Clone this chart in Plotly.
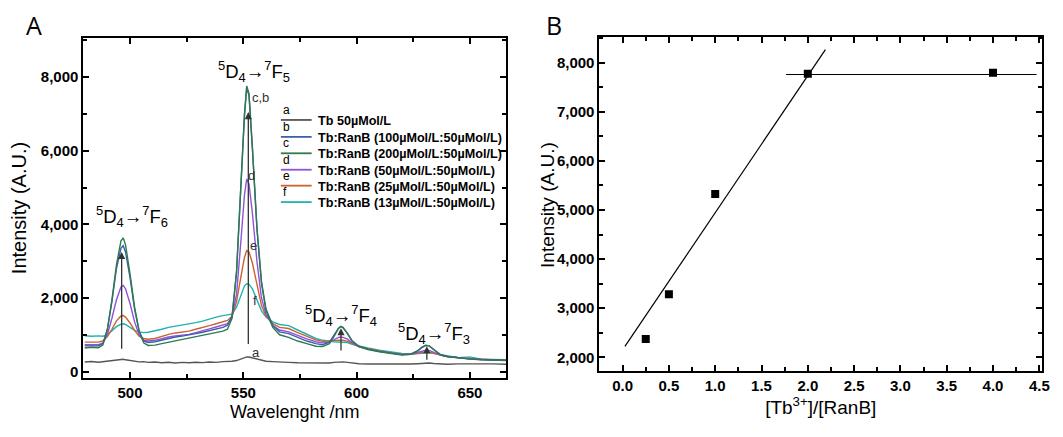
import plotly.graph_objects as go

# ---------------- Panel A data ----------------
wavelength = [480, 483, 486, 488, 490, 492, 494, 496, 497, 498, 500, 502, 504, 506, 508,
              511, 514, 517, 520, 523, 526, 529, 532, 535, 538, 541, 543, 545, 547, 549,
              550.5, 551.5, 552.5, 554, 556, 558, 560, 563, 566, 570, 574, 578, 582, 585,
              588, 590, 592, 593, 594, 596, 598, 601, 605, 610, 615, 620, 624, 627, 629,
              630.5, 632, 634, 637, 640, 645, 650, 655, 660, 666]

int_a = [260, 275, 255, 270, 265, 280, 300, 330, 335, 320, 300, 280, 265, 270, 250,
         260, 240, 255, 235, 250, 240, 255, 245, 260, 250, 270, 265, 280, 300, 350,
         390, 400, 395, 370, 330, 300, 280, 270, 255, 250, 240, 235, 230, 225,
         235, 250, 265, 270, 265, 250, 230, 215, 205, 200, 195, 200, 205, 215, 230,
         240, 235, 220, 205, 200, 210, 215, 205, 210, 200]

int_b = [700, 690, 700, 760, 1150, 1900, 2800, 3350, 3420, 3250, 2550, 1700, 1100, 830, 790,
         810, 860, 900, 940, 965, 990, 1030, 1070, 1120, 1160, 1200, 1260, 1500, 2700, 5000,
         6950, 7700, 7500, 6050, 3900, 2450, 1700, 1250, 1080, 1030, 920, 830, 760, 730,
         800, 980, 1180, 1220, 1190, 1030, 840, 690, 610, 550, 500, 460, 480, 570, 670,
         715, 700, 600, 460, 410, 370, 345, 330, 320, 310]

int_c = [640, 660, 650, 720, 1150, 1950, 2900, 3550, 3630, 3450, 2650, 1750, 1100, 780, 710,
         720, 760, 800, 840, 870, 900, 940, 980, 1020, 1060, 1100, 1150, 1450, 2700, 5000,
         7000, 7760, 7550, 6100, 3900, 2400, 1650, 1200, 1000, 930, 830, 760, 690, 680,
         760, 950, 1170, 1230, 1200, 1030, 830, 680, 600, 540, 490, 450, 470, 560, 660,
         710, 700, 590, 450, 410, 370, 340, 320, 310, 300]

int_d = [730, 740, 730, 770, 1000, 1450, 1950, 2300, 2340, 2250, 1850, 1350, 1000, 850, 830,
         850, 900, 940, 970, 990, 1010, 1060, 1100, 1160, 1210, 1260, 1300, 1480, 2100, 3600,
         4800, 5230, 5100, 4300, 3000, 2000, 1550, 1250, 1130, 1080, 980, 890, 810, 780,
         800, 870, 930, 940, 930, 880, 780, 680, 610, 550, 500, 460, 470, 520, 560,
         580, 575, 530, 450, 410, 370, 345, 330, 320, 310]

int_e = [800, 810, 800, 830, 950, 1150, 1380, 1510, 1525, 1480, 1320, 1120, 960, 900, 880,
         900, 960, 1010, 1050, 1075, 1100, 1150, 1190, 1250, 1300, 1360, 1390, 1500, 1900, 2600,
         3100, 3290, 3250, 2950, 2350, 1800, 1500, 1300, 1200, 1170, 1060, 960, 860, 820,
         820, 840, 850, 855, 850, 820, 760, 680, 620, 560, 510, 470, 470, 500, 520,
         530, 525, 500, 450, 410, 375, 350, 335, 325, 315]

int_f = [975, 960, 970, 960, 1000, 1100, 1220, 1290, 1300, 1280, 1200, 1120, 1080, 1060, 1070,
         1100, 1150, 1200, 1230, 1255, 1280, 1330, 1370, 1430, 1480, 1520, 1530, 1560, 1750, 2100,
         2330, 2385, 2370, 2250, 1950, 1650, 1480, 1350, 1280, 1250, 1130, 1010, 900, 850,
         820, 810, 805, 800, 800, 790, 740, 690, 640, 580, 530, 490, 480, 495, 510,
         515, 512, 495, 460, 420, 380, 400, 340, 330, 320]

series_letters = ["a", "b", "c", "d", "e", "f"]
series_names = ["Tb 50µMol/L",
                "Tb:RanB (100µMol/L:50µMol/L)",
                "Tb:RanB (200µMol/L:50µMol/L)",
                "Tb:RanB (50µMol/L:50µMol/L)",
                "Tb:RanB (25µMol/L:50µMol/L)",
                "Tb:RanB (13µMol/L:50µMol/L)"]
series_colors = ["#555555", "#3d5daf", "#2f7a4c", "#8f52d8", "#c9632f", "#1fb3b0"]
series_values = [int_a, int_b, int_c, int_d, int_e, int_f]

# ---------------- Panel B data ----------------
ratio = [0.25, 0.5, 1.0, 2.0, 4.0]
intensity_b = [2375, 3285, 5325, 7775, 7795]
fit_x = [0.025, 2.19]
fit_y = [2223, 8268]
plateau_x = [1.765, 4.47]
plateau_y = [7760, 7760]

W, H = 1063, 437
def px(x):
    return x / W
def py(y):
    return 1 - y / H

fig = go.Figure()

# draw order: a, f, e, d, b, c
order = [0, 5, 4, 3, 1, 2]
for i in order:
    fig.add_trace(go.Scatter(x=wavelength, y=series_values[i], mode="lines",
                             line=dict(color=series_colors[i], width=1.4),
                             name=series_names[i], showlegend=False,
                             xaxis="x", yaxis="y"))

fig.add_trace(go.Scatter(x=fit_x, y=fit_y, mode="lines", line=dict(color="black", width=1.2),
                         showlegend=False, xaxis="x2", yaxis="y2"))
fig.add_trace(go.Scatter(x=plateau_x, y=plateau_y, mode="lines", line=dict(color="black", width=1.2),
                         showlegend=False, xaxis="x2", yaxis="y2"))
fig.add_trace(go.Scatter(x=ratio, y=intensity_b, mode="markers",
                         marker=dict(symbol="square", size=8, color="black"),
                         showlegend=False, xaxis="x2", yaxis="y2"))

tickfont = dict(family="Liberation Sans, Arial", size=15, color="black", weight="bold")
titlefont = dict(family="Liberation Sans, Arial", size=19, color="black")

axis_common = dict(showline=True, linecolor="black", linewidth=2, mirror="allticks",
                   ticks="inside", ticklen=6, tickwidth=1.5, tickcolor="black",
                   showgrid=False, zeroline=False, tickfont=tickfont)

fig.update_layout(
    width=W, height=H, margin=dict(l=0, r=0, t=0, b=0),
    paper_bgcolor="white", plot_bgcolor="white",
    xaxis=dict(domain=[px(84), px(510)], range=[479.4, 666], anchor="y",
               tickvals=[500, 550, 600, 650],
               minor=dict(tickvals=[525, 575, 625], ticks="inside", ticklen=4, tickcolor="black", tickwidth=1.5),
               title=dict(text="Wavelenght /nm", font=dict(family="Liberation Sans, Arial", size=18, color="black"), standoff=5),
               **axis_common),
    yaxis=dict(domain=[py(380), py(38)], range=[-181, 9066], anchor="x",
               tickvals=[0, 2000, 4000, 6000, 8000], tickformat=",d",
               minor=dict(tickvals=[1000, 3000, 5000, 7000, 9000], ticks="inside", ticklen=4, tickcolor="black", tickwidth=1.5),
               title=dict(text="Intensity (A.U.)", font=dict(family="Liberation Sans, Arial", size=20, color="black"), standoff=9),
               **axis_common),
    xaxis2=dict(domain=[px(604), px(1050)], range=[-0.25, 4.53], anchor="y2",
                tickvals=[0, 0.5, 1, 1.5, 2, 2.5, 3, 3.5, 4, 4.5], tickformat=".1f",
                minor=dict(dtick=0.25, tick0=0, ticks="inside", ticklen=4, tickcolor="black", tickwidth=1.5),
                title=dict(text="[Tb<sup>3+</sup>]/[RanB]", font=titlefont, standoff=5),
                **axis_common),
    yaxis2=dict(domain=[py(373), py(37)], range=[1716, 8527], anchor="x2",
                tickvals=[2000, 3000, 4000, 5000, 6000, 7000, 8000], tickformat=",d",
                minor=dict(dtick=500, tick0=0, ticks="inside", ticklen=4, tickcolor="black", tickwidth=1.5),
                **axis_common),
)

ann = []
# panel letters
ann.append(dict(text="A", x=px(34), y=py(25), xref="paper", yref="paper", showarrow=False,
                xanchor="center", yanchor="middle",
                font=dict(family="Open Sans, Liberation Sans", size=25, color="black")))
ann.append(dict(text="B", x=px(558), y=py(25), xref="paper", yref="paper", showarrow=False,
                xanchor="center", yanchor="middle",
                font=dict(family="Open Sans, Liberation Sans", size=25, color="black")))

# panel B y title
ann.append(dict(text="Intensity (A.U.)", x=px(551), y=py(206), xref="paper", yref="paper",
                showarrow=False, textangle=-90, xanchor="center", yanchor="middle",
                font=dict(family="Liberation Sans, Arial", size=19, color="black")))

# transition labels
tfont = dict(family="Liberation Sans, Arial", size=18.5, color="black")
for txt, xv, yv in [("<sup>5</sup>D<sub>4</sub>\u2192<sup>7</sup>F<sub>6</sub>", 501, 4200),
                    ("<sup>5</sup>D<sub>4</sub>\u2192<sup>7</sup>F<sub>5</sub>", 554.5, 8150),
                    ("<sup>5</sup>D<sub>4</sub>\u2192<sup>7</sup>F<sub>4</sub>", 593, 1530),
                    ("<sup>5</sup>D<sub>4</sub>\u2192<sup>7</sup>F<sub>3</sub>", 634, 1040)]:
    ann.append(dict(text=txt, x=xv, y=yv, xref="x", yref="y", showarrow=False,
                    xanchor="center", yanchor="middle", font=tfont))

# series letters at main peak
lfont = dict(family="Liberation Sans, Arial", size=13, color="#333333")
for txt, xv, yv in [("c,b", 557.5, 7450), ("d", 553.4, 5340), ("e", 554.6, 3420),
                    ("f", 555.3, 1930), ("a", 555.5, 530)]:
    ann.append(dict(text=txt, x=xv, y=yv, xref="x", yref="y", showarrow=False,
                    xanchor="center", yanchor="middle", font=lfont))

# vertical arrows at peaks
for xv, y0, y1 in [(496.3, 580, 3250), (552.2, 710, 7050), (593.1, 530, 1180), (631.0, 280, 690)]:
    ann.append(dict(text="", x=xv, y=y1, ax=xv, ay=y0, xref="x", yref="y", axref="x", ayref="y",
                    showarrow=True, arrowhead=2, arrowsize=1.1, arrowwidth=1.3, arrowcolor="#333333"))

# custom legend
shapes = []
leg_y = [120.5, 137.5, 154, 170.5, 186.5, 203]
for i in range(6):
    yy = leg_y[i]
    shapes.append(dict(type="line", xref="paper", yref="paper", x0=px(283), x1=px(314),
                       y0=py(yy), y1=py(yy), line=dict(color=series_colors[i], width=1.8)))
    ann.append(dict(text=series_letters[i], x=px(283), y=py(yy - 1), xref="paper", yref="paper",
                    xanchor="left", yanchor="bottom", showarrow=False,
                    font=dict(family="Liberation Sans, Arial", size=12, color="black")))
    ann.append(dict(text=series_names[i], x=px(318), y=py(yy + 1), xref="paper", yref="paper",
                    xanchor="left", yanchor="middle", showarrow=False,
                    font=dict(family="Liberation Sans, Arial", size=12.6, color="black", weight="bold")))

fig.update_layout(annotations=ann, shapes=shapes)

fig.write_html("out.html")
